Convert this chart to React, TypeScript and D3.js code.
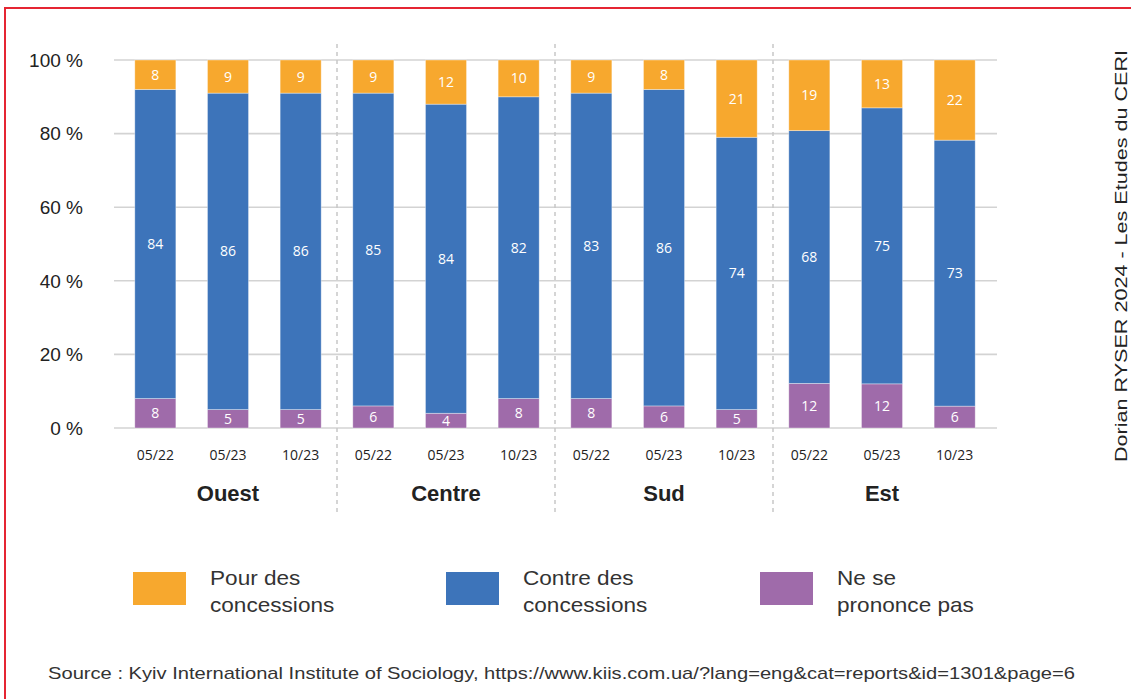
import React from "react";
import * as d3 from "d3";

const periods = ["05/22", "05/23", "10/23"];
const regions = ["Ouest", "Centre", "Sud", "Est"];

// one value per bar, region by region, period by period
const pour = [8, 9, 9, 9, 12, 10, 9, 8, 21, 19, 13, 22];
const contre = [84, 86, 86, 85, 84, 82, 83, 86, 74, 68, 75, 73];
const nsp = [8, 5, 5, 6, 4, 8, 8, 6, 5, 12, 12, 6];

const yTicks = [0, 20, 40, 60, 80, 100];

const series = [
  { key: "nsp", values: nsp, color: "#9f6baa", label: ["Ne se", "prononce pas"] },
  { key: "contre", values: contre, color: "#3d74ba", label: ["Contre des", "concessions"] },
  { key: "pour", values: pour, color: "#f7a82e", label: ["Pour des", "concessions"] },
];

const W = 1131;
const H = 699;

export default function App() {
  const bars = regions.flatMap((r, ri) => periods.map((p, pi) => ({ id: ri * 3 + pi, period: p })));

  const x = d3
    .scaleBand<number>()
    .domain(bars.map((d) => d.id))
    .range([119, 991])
    .paddingInner(0.435)
    .paddingOuter(0.2175);

  // rounded values don't always sum to 100, so normalise each bar
  const y = d3.scaleLinear().domain([0, 1]).range([428, 60]);

  const stacked = d3
    .stack<number>()
    .keys(series.map((s) => s.key))
    .value((i, key) => series.find((s) => s.key === key)!.values[i])
    .offset(d3.stackOffsetExpand)(bars.map((d) => d.id));

  const gap = x.step() - x.bandwidth();
  const separators = [1, 2, 3].map((k) => x(k * 3)! - gap / 2);

  const legendOrder = [series[2], series[1], series[0]];
  const legendX = [133, 446, 760];

  return (
    <svg
      width={W}
      height={H}
      style={{ position: "absolute", left: 0, top: 0, background: "#fff" }}
      fontFamily="'Liberation Sans', Arial, sans-serif"
    >
      <rect x={5} y={8} width={1300} height={900} fill="none" stroke="#e52532" strokeWidth={2} />

      {/* grid + y labels */}
      {yTicks.map((t) => (
        <g key={t}>
          <line x1={114} x2={997} y1={y(t / 100)} y2={y(t / 100)} stroke="#d3d3d3" strokeWidth={1.6} />
          <text
            x={83}
            y={y(t / 100)}
            dy="0.36em"
            textAnchor="end"
            fontSize={19}
            fill="#222"
          >
            {t} %
          </text>
        </g>
      ))}

      {separators.map((sx, i) => (
        <line key={i} x1={sx} x2={sx} y1={44} y2={515} stroke="#c8c8c8" strokeWidth={1.5} strokeDasharray="4 4" />
      ))}

      {/* bars */}
      {stacked.map((layer, li) => (
        <g key={layer.key} fill={series[li].color}>
          {layer.map((seg, i) => (
            <g key={i}>
              <rect
                x={x(i)}
                y={y(seg[1])}
                width={x.bandwidth()}
                height={y(seg[0]) - y(seg[1])}
                stroke="#ffffff"
                strokeOpacity={0.45}
                strokeWidth={0.8}
              />
              <text
                x={x(i)! + x.bandwidth() / 2}
                y={(y(seg[0]) + y(seg[1])) / 2}
                dy="0.36em"
                textAnchor="middle"
                fill="#fff"
                fontSize={14}
                fontFamily="'Open Sans', sans-serif"
              >
                {series[li].values[i]}
              </text>
            </g>
          ))}
        </g>
      ))}

      {/* x labels */}
      {bars.map((d) => (
        <text
          key={d.id}
          x={x(d.id)! + x.bandwidth() / 2}
          y={460}
          textAnchor="middle"
          fontSize={14}
          fill="#222"
          fontFamily="'Open Sans', sans-serif"
        >
          {d.period}
        </text>
      ))}
      {regions.map((r, ri) => (
        <text
          key={r}
          x={x(ri * 3 + 1)! + x.bandwidth() / 2}
          y={501}
          textAnchor="middle"
          fontSize={22}
          fontWeight="bold"
          fill="#222"
        >
          {r}
        </text>
      ))}

      {/* legend */}
      {legendOrder.map((s, i) => (
        <g key={s.key} transform={`translate(${legendX[i]},0)`}>
          <rect x={0} y={572} width={53} height={33} fill={s.color} />
          <g transform="translate(77,0) scale(1.13,1)">
            <text x={0} y={585} fontSize={20} fill="#333">
              {s.label[0]}
            </text>
            <text x={0} y={612} fontSize={20} fill="#333">
              {s.label[1]}
            </text>
          </g>
        </g>
      ))}

      <text x={48} y={679} fontSize={17} fill="#333" textLength={1027} lengthAdjust="spacingAndGlyphs">
        Source : Kyiv International Institute of Sociology, https://www.kiis.com.ua/?lang=eng&amp;cat=reports&amp;id=1301&amp;page=6
      </text>

      <text
        transform="translate(1127,462) rotate(-90)"
        fontSize={17}
        fill="#222"
        textLength={412}
        lengthAdjust="spacingAndGlyphs"
      >
        Dorian RYSER 2024 - Les Etudes du CERI
      </text>
    </svg>
  );
}
